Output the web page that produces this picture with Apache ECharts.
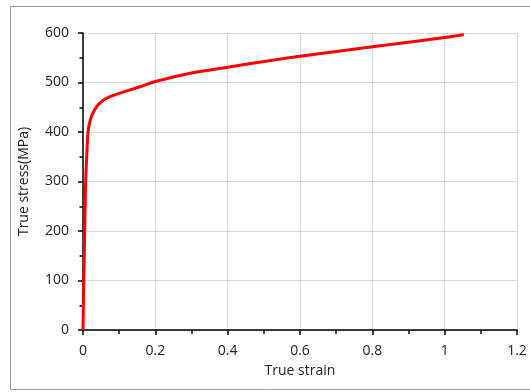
<!DOCTYPE html>
<html>
<head>
<meta charset="utf-8">
<script src="https://cdn.jsdelivr.net/npm/echarts@6/dist/echarts.min.js"></script>
<style>
    html, body { margin: 0; padding: 0; background: #fff; }
    #chart { width: 530px; height: 392px; }
</style>
</head>
<body>
<div id="chart"></div>
<script>
    // 真应力-真应变曲线
    var strain = [0, 0.0047, 0.0075, 0.011, 0.014, 0.02, 0.03, 0.042, 0.06, 0.08, 0.1, 0.13, 0.16, 0.2, 0.3, 0.4, 0.6, 0.8, 1.0, 1.053];
    var stress = [0, 200, 301, 360, 400, 424, 442, 455, 466, 473, 478, 485, 492, 502, 519, 531, 553, 572, 591, 597];

    var xTicks = { min: 0, max: 1.2, interval: 0.2 };
    var yTicks = { min: 0, max: 600, interval: 100 };

    var font = '"Open Sans", "Noto Sans", sans-serif';
    var chart = echarts.init(document.getElementById('chart'));

    var points = strain.map(function (s, i) {
        return [s, stress[i]];
    });

    var option = {
        animation: false,
        backgroundColor: '#fff',
        graphic: [
            {
                type: 'rect',
                shape: { x: 10.5, y: 6.5, width: 530, height: 383 },
                style: { fill: 'none', stroke: '#9a9a9a', lineWidth: 1 },
                silent: true
            }
        ],
        grid: {
            left: 83,
            right: 13,
            top: 33,
            bottom: 62
        },
        xAxis: {
            type: 'value',
            min: xTicks.min,
            max: xTicks.max,
            interval: xTicks.interval,
            name: 'True strain',
            nameLocation: 'middle',
            nameGap: 34,
            nameTextStyle: { fontFamily: font, fontSize: 14, color: '#222' },
            axisLine: { lineStyle: { color: '#000', width: 1.5 } },
            axisTick: { show: true, length: 5, lineStyle: { color: '#000', width: 1.5 } },
            minorTick: { show: true, splitNumber: 2, length: 4, lineStyle: { color: '#000', width: 1.5 } },
            axisLabel: {
                fontFamily: font, fontSize: 14, color: '#222', margin: 14,
                formatter: function (v) { return String(+v.toFixed(1)); }
            },
            splitLine: { show: true, lineStyle: { color: '#d9d9d9', width: 1 } }
        },
        yAxis: {
            type: 'value',
            min: yTicks.min,
            max: yTicks.max,
            interval: yTicks.interval,
            name: 'True stress(MPa)',
            nameLocation: 'middle',
            nameGap: 52,
            nameTextStyle: { fontFamily: font, fontSize: 14, color: '#222' },
            axisLine: { show: true, lineStyle: { color: '#000', width: 1.5 } },
            axisTick: { show: true, length: 5, lineStyle: { color: '#000', width: 1.5 } },
            minorTick: { show: true, splitNumber: 2, length: 3.5, lineStyle: { color: '#000', width: 1.5 } },
            axisLabel: { fontFamily: font, fontSize: 14, color: '#222', margin: 14 },
            splitLine: { show: true, lineStyle: { color: '#d9d9d9', width: 1 } }
        },
        series: [
            {
                type: 'line',
                data: points,
                showSymbol: false,
                smooth: 0.4,
                lineStyle: { color: '#ff0000', width: 3 }
            }
        ]
    };

    chart.setOption(option);
</script>
</body>
</html>
